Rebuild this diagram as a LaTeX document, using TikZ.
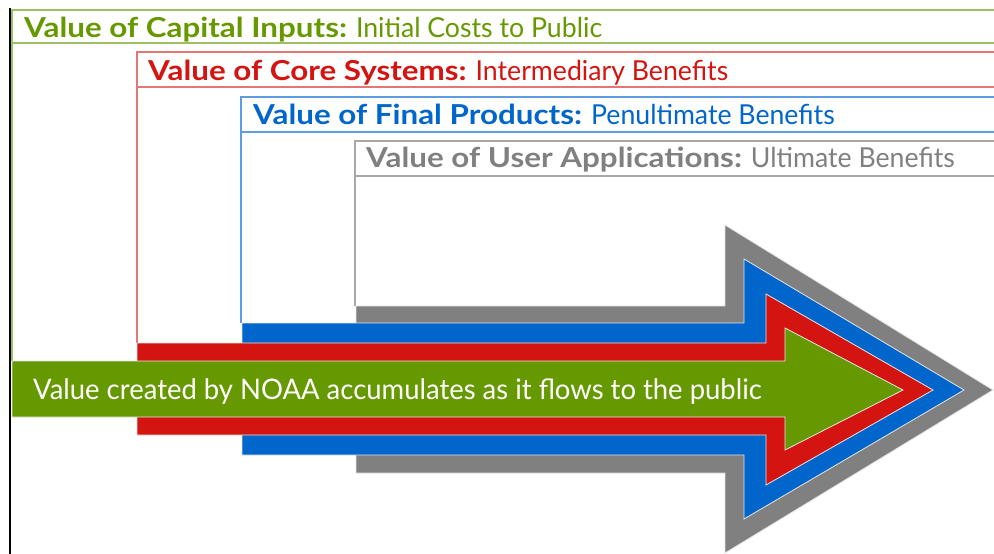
\documentclass[tikz,border=0pt]{standalone}
\usepackage{fontspec}
\setmainfont{Lato}[UprightFeatures={FakeStretch=0.97},BoldFeatures={FakeStretch=1.14}]
\definecolor{cgreen}{HTML}{669900}
\definecolor{cred}{HTML}{D41410}
\definecolor{cblue}{HTML}{0066CC}
\definecolor{cgray}{HTML}{808080}
\definecolor{lgreen}{HTML}{9CC060}
\definecolor{lred}{HTML}{E07878}
\definecolor{lblue}{HTML}{5C9EE0}
\definecolor{lgray}{HTML}{A8A8A8}
\begin{document}
\begin{tikzpicture}[x=1pt,y=-1pt,
  frame/.style={line width=1.3pt},
  arrowshape/.style={draw=white!80!gray,line width=0.8pt},
  title/.style={anchor=base west,inner sep=0pt,font=\fontsize{27.5}{32}\selectfont},
  flowtext/.style={anchor=base west,inner sep=0pt,text=white,font=\fontsize{28.3}{32}\selectfont}]
\useasboundingbox (0,0) rectangle (994,554);
\fill[white] (0,0) rectangle (994,554);
\begin{scope}
\clip (0,0) rectangle (994,554);
% frames
\draw[frame,lgreen] (1000,10) -- (12,10) -- (12,361);
\draw[frame,lgreen] (12,43) -- (1000,43);
\draw[frame,lred] (1000,52) -- (137,52) -- (137,343);
\draw[frame,lred] (137,87) -- (1000,87);
\draw[frame,lblue] (1000,97) -- (241,97) -- (241,323);
\draw[frame,lblue] (241,132) -- (1000,132);
\draw[frame,lgray] (1000,141) -- (355,141) -- (355,306);
\draw[frame,lgray] (355,176) -- (1000,176);
% arrows
\path[arrowshape,fill=cgray] (356,306) -- (725,306) -- (725,225) -- (993,390) -- (725,553) -- (725,473) -- (356,473) -- cycle;
\path[arrowshape,fill=cblue] (242,323) -- (744,323) -- (744,259) -- (964,390) -- (744,519) -- (744,455) -- (242,455) -- cycle;
\path[arrowshape,fill=cred] (137,343) -- (766,343) -- (766,294) -- (933,390) -- (766,485) -- (766,435) -- (137,435) -- cycle;
\path[arrowshape,fill=cgreen] (12,361) -- (785,361) -- (785,328) -- (903,390) -- (785,450) -- (785,417) -- (12,417) -- cycle;
\end{scope}
\draw[black,line width=2pt] (10,8) -- (10,554);
% titles
\node[title,text=cgreen] (t1) at (24,37) {\textbf{Value of Capital Inputs:} Initial Costs to Public};
\node[title,text=cred] (t2) at (148,80) {\textbf{Value of Core Systems:} Intermediary Benefits};
\node[title,text=cblue] (t3) at (253,124) {\textbf{Value of Final Products:} Penultimate Benefits};
\node[title,text=cgray] (t4) at (366,167) {\textbf{Value of User Applications:} Ultimate Benefits};
\node[flowtext] (flow) at (33,399) {Value created by NOAA accumulates as it flows to the public};
\end{tikzpicture}
\end{document}
